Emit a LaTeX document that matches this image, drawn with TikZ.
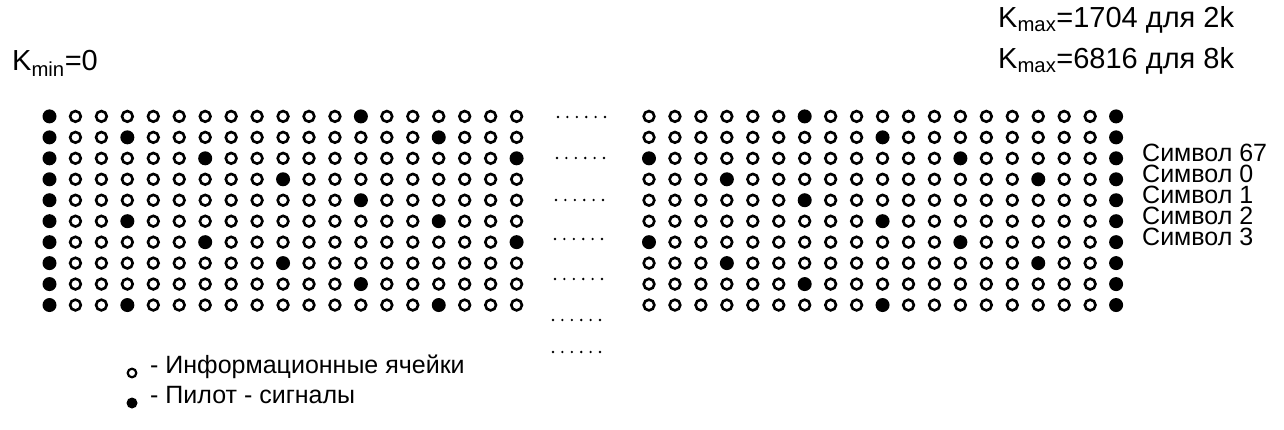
\documentclass[tikz,border=0pt]{standalone}
\usepackage{fontspec}
\setmainfont{Liberation Sans}
\usetikzlibrary{positioning}

\tikzset{
  info/.style={circle,draw,line width=2.6pt,minimum size=10.7pt,inner sep=0pt},
  pilot/.style={circle,fill,minimum size=14pt,inner sep=0pt},
  gapdot/.style={circle,fill,minimum size=2.6pt,inner sep=0pt},
  ktext/.style={font=\fontsize{29}{29}\selectfont,inner sep=0pt,text height=.716em,text depth=0pt},
  symtext/.style={font=\fontsize{25}{25}\selectfont,inner sep=0pt,text height=.716em,text depth=0pt,anchor=west},
}

\begin{document}
\begin{tikzpicture}[x=1pt,y=-1pt]
\useasboundingbox (0,0) rectangle (1284,430);

% Frequency limits
\node[ktext,anchor=west] (kmin) at (12,67) {K\textsubscript{min}=0};
\node[ktext,anchor=west] (kmaxa) at (998,24) {K\textsubscript{max}=1704 для 2k};
\node[ktext,anchor=west] (kmaxb) at (998,65) {K\textsubscript{max}=6816 для 8k};

% Left block of cells (pilot in column 0 and every 12th carrier)
\foreach \r in {0,...,9}{
  \foreach \c in {0,...,18}{
    \pgfmathtruncatemacro\ispilot{(\c==0)||(mod(\c-3*mod(\r,4),12)==0)}
    \ifnum\ispilot=1
      \node[pilot] (l\r-\c) at ({49.5+25.95*\c},{116.4+20.96*\r}) {};
    \else
      \node[info] (l\r-\c) at ({49.5+25.95*\c},{116.4+20.96*\r}) {};
    \fi
  }
}

% Right block of cells (pilot in the last column)
\foreach \r in {0,...,9}{
  \foreach \c in {0,...,18}{
    \pgfmathtruncatemacro\ispilot{(\c==18)||(mod(\c-3*mod(\r+2,4),12)==0)}
    \ifnum\ispilot=1
      \node[pilot] (r\r-\c) at ({649+25.95*\c},{116.4+20.96*\r}) {};
    \else
      \node[info] (r\r-\c) at ({649+25.95*\c},{116.4+20.96*\r}) {};
    \fi
  }
}

% Gap between the blocks
\foreach \y/\x [count=\i] in {117/558,158/557,200/556,239/555,279/555,320/553,352/553}{
  \foreach \k in {0,...,5}{
    \node[gapdot] (g\i-\k) at ({\x+9.4*\k},\y) {};
  }
}

% Symbol labels
\node[symtext] (s67) at (1142,158.3) {Символ 67};
\node[symtext] (s0) at (1142,179.3) {Символ 0};
\node[symtext] (s1) at (1142,200.3) {Символ 1};
\node[symtext] (s2) at (1142,221.2) {Символ 2};
\node[symtext] (s3) at (1142,242.2) {Символ 3};

% Legend
\node[info,minimum size=8.6pt,line width=2.2pt] (leginfo) at (132,373) {};
\node[symtext] (leginfotext) at (150,370) {- Информационные ячейки};
\node[pilot,minimum size=11pt] (legpilot) at (132,403) {};
\node[symtext] (legpilottext) at (150,400) {- Пилот - сигналы};
\end{tikzpicture}
\end{document}
